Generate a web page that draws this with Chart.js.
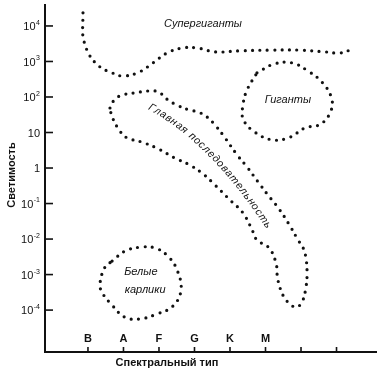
<!DOCTYPE html>
<html>
<head>
<meta charset="utf-8">
<script src="https://cdn.jsdelivr.net/npm/chart.js@4"></script>
<style>
  html, body { margin: 0; padding: 0; background: #fff; }
  #wrap { width: 377px; height: 376px; }
</style>
</head>
<body>
<div id="wrap"><canvas id="hrChart"></canvas></div>
<script>
// Spectral classes on the x axis (the last two ticks carry no letter)
const typeTicks = [1, 2, 3, 4, 5, 6, 7, 8];
const spectralTypes = ['B', 'A', 'F', 'G', 'K', 'M', '', ''];

// Luminosity axis: log10 of luminosity, label = base + superscript
const lumTicks = [4, 3, 2, 1, 0, -1, -2, -3, -4];
const lumBase = ['10', '10', '10', '10', '1', '10', '10', '10', '10'];
const lumExp = ['4', '3', '2', '', '', '-1', '-2', '-3', '-4'];

// Supergiants band (open curve)
const superX = [0.86, 0.86, 0.94, 1.00, 1.31, 1.68, 1.99, 2.44, 2.83, 3.23, 3.65, 4.07, 4.58, 5.28, 6.13, 6.97, 7.68, 8.10, 8.46];
const superY = [4.37, 3.66, 3.44, 3.24, 2.87, 2.68, 2.59, 2.70, 2.96, 3.24, 3.38, 3.38, 3.27, 3.30, 3.32, 3.32, 3.27, 3.24, 3.35];

// Giants region (closed)
const giantX = [5.76, 6.24, 6.75, 7.20, 7.59, 7.85, 7.85, 7.56, 7.11, 6.69, 6.21, 5.70, 5.37, 5.37, 5.48, 5.76];
const giantY = [2.68, 2.93, 2.96, 2.73, 2.42, 2.00, 1.63, 1.24, 1.13, 0.87, 0.79, 1.01, 1.38, 1.80, 2.20, 2.68];

// Main sequence region (closed)
const mainX = [1.62, 1.76, 1.99, 2.27, 2.69, 2.89, 3.08, 3.25, 3.51, 3.87, 4.10, 4.35, 4.58, 4.86, 5.20, 5.48,
               5.79, 6.07, 6.38, 6.66, 6.92, 7.06, 7.14, 7.17, 7.14, 7.03, 6.86, 6.66, 6.52, 6.41, 6.35, 6.32,
               6.30, 6.10, 5.76, 5.65, 5.37, 5.00, 4.58, 4.21, 3.82, 3.45, 2.94, 2.52, 2.10, 1.90, 1.68, 1.62];
const mainY = [1.69, 1.94, 2.06, 2.11, 2.17, 2.17, 2.08, 1.92, 1.77, 1.63, 1.58, 1.44, 1.21, 0.85, 0.37, 0.03,
               -0.39, -0.76, -1.15, -1.58, -2.03, -2.25, -2.54, -2.96, -3.35, -3.77, -3.92, -3.80, -3.63, -3.38, -3.15, -2.93,
               -2.68, -2.25, -2.03, -1.80, -1.27, -0.90, -0.48, -0.14, 0.11, 0.28, 0.56, 0.73, 0.85, 1.04, 1.44, 1.69];

// White dwarfs region (closed)
const dwarfX = [1.68, 2.04, 2.46, 2.89, 3.25, 3.51, 3.62, 3.39, 2.94, 2.46, 2.04, 1.68, 1.39, 1.34, 1.48, 1.68];
const dwarfY = [-2.62, -2.34, -2.23, -2.25, -2.48, -2.87, -3.44, -3.89, -4.11, -4.25, -4.20, -3.86, -3.49, -3.24, -2.79, -2.62];

const toPoints = (xs, ys) => xs.map((x, i) => ({ x: x, y: ys[i] }));

// dotted outline look: zero-length dashes with round caps
const dotted = {
    showLine: true,
    borderColor: '#111',
    borderWidth: 3.2,
    borderDash: [0, 7.4],
    borderCapStyle: 'round',
    pointRadius: 0,
    tension: 0.4,
    fill: false
};

const FAMILY = '"Liberation Sans", Arial, sans-serif';

// draws a string letter by letter along a quadratic curve
function textOnCurve(ctx, text, p0, q, p2, extra) {
    const N = 300, pts = [], lens = [0];
    for (let i = 0; i <= N; i++) {
        const t = i / N, u = 1 - t;
        pts.push({
            x: u * u * p0.x + 2 * u * t * q.x + t * t * p2.x,
            y: u * u * p0.y + 2 * u * t * q.y + t * t * p2.y
        });
        if (i > 0) lens.push(lens[i - 1] + Math.hypot(pts[i].x - pts[i - 1].x, pts[i].y - pts[i - 1].y));
    }
    const chars = Array.from(text);
    const widths = chars.map(ch => ctx.measureText(ch).width + extra);
    const width = widths.reduce((a, b) => a + b, 0);
    let s = (lens[N] - width) / 2;
    ctx.textAlign = 'center';
    ctx.textBaseline = 'middle';
    chars.forEach((ch, k) => {
        const target = s + widths[k] / 2;
        let i = 1;
        while (i < N && lens[i] < target) i++;
        const a = Math.atan2(pts[i].y - pts[i - 1].y, pts[i].x - pts[i - 1].x);
        ctx.save();
        ctx.translate(pts[i].x, pts[i].y);
        ctx.rotate(a);
        ctx.fillText(ch, 0, 0);
        ctx.restore();
        s += widths[k];
    });
}

const hrDecor = {
    id: 'hrDecor',
    afterDraw(chart) {
        const ctx = chart.ctx;
        const xs = chart.scales.x, ys = chart.scales.y;
        const area = chart.chartArea;
        const px = v => xs.getPixelForValue(v);
        const py = v => ys.getPixelForValue(v);
        ctx.save();
        ctx.strokeStyle = '#111';
        ctx.fillStyle = '#111';
        ctx.lineWidth = 1.6;

        // inward tick marks
        lumTicks.forEach(v => {
            ctx.beginPath();
            ctx.moveTo(area.left, py(v));
            ctx.lineTo(area.left + 8, py(v));
            ctx.stroke();
        });
        typeTicks.forEach(v => {
            ctx.beginPath();
            ctx.moveTo(px(v), area.bottom);
            ctx.lineTo(px(v), area.bottom - 5);
            ctx.stroke();
        });

        // luminosity labels with small superscripts
        ctx.textBaseline = 'middle';
        ctx.textAlign = 'left';
        lumTicks.forEach((v, i) => {
            ctx.font = '11px ' + FAMILY;
            const wb = ctx.measureText(lumBase[i]).width;
            ctx.font = '7px ' + FAMILY;
            const we = lumExp[i] ? ctx.measureText(lumExp[i]).width + 0.5 : 0;
            const x0 = area.left - 5 - wb - we;
            ctx.font = '11px ' + FAMILY;
            ctx.fillText(lumBase[i], x0, py(v) + 1);
            if (lumExp[i]) {
                ctx.font = '7px ' + FAMILY;
                ctx.fillText(lumExp[i], x0 + wb + 0.5, py(v) - 3);
            }
        });

        // spectral class letters sit just above the axis
        ctx.font = 'bold 11px ' + FAMILY;
        ctx.textAlign = 'center';
        spectralTypes.forEach((t, i) => {
            if (t) ctx.fillText(t, px(typeTicks[i]), area.bottom - 13);
        });

        // axis titles
        ctx.fillText('Спектральный тип', 167, 363);
        ctx.save();
        ctx.translate(12, 175);
        ctx.rotate(-Math.PI / 2);
        ctx.fillText('Светимость', 0, 0);
        ctx.restore();

        // region names
        ctx.font = 'italic 11px ' + FAMILY;
        ctx.fillText('Супергиганты', px(4.24), py(4.06));
        ctx.fillText('Гиганты', px(6.63), py(1.92));
        ctx.fillText('Белые', px(2.49), py(-2.93));
        ctx.fillText('карлики', px(2.61), py(-3.44));

        ctx.font = 'italic 10.5px ' + FAMILY;
        textOnCurve(ctx, 'Главная последовательность',
            { x: px(2.66), y: py(1.77) },
            { x: px(4.48), y: py(0.82) },
            { x: px(6.13), y: py(-1.72) }, 0.8);
        ctx.restore();
    }
};

const ctx = document.getElementById('hrChart').getContext('2d');
new Chart(ctx, {
    type: 'scatter',
    data: {
        datasets: [
            Object.assign({ label: 'Супергиганты', data: toPoints(superX, superY) }, dotted),
            Object.assign({ label: 'Гиганты', data: toPoints(giantX, giantY) }, dotted),
            Object.assign({ label: 'Главная последовательность', data: toPoints(mainX, mainY) }, dotted),
            Object.assign({ label: 'Белые карлики', data: toPoints(dwarfX, dwarfY) }, dotted)
        ]
    },
    options: {
        animation: false,
        responsive: true,
        maintainAspectRatio: false,
        layout: { padding: { top: 5, right: 0, left: 0, bottom: 0 } },
        plugins: {
            legend: { display: false },
            tooltip: { enabled: false }
        },
        scales: {
            x: {
                type: 'linear',
                min: -0.21,
                max: 9.14,
                afterFit: s => { s.height = 24; },
                ticks: { display: false },
                grid: { display: false },
                border: { display: true, width: 2, color: '#111' }
            },
            y: {
                type: 'linear',
                min: -5.18,
                max: 4.59,
                afterFit: s => { s.width = 45; },
                ticks: { display: false },
                grid: { display: false },
                border: { display: true, width: 2, color: '#111' }
            }
        }
    },
    plugins: [hrDecor]
});
</script>
</body>
</html>
